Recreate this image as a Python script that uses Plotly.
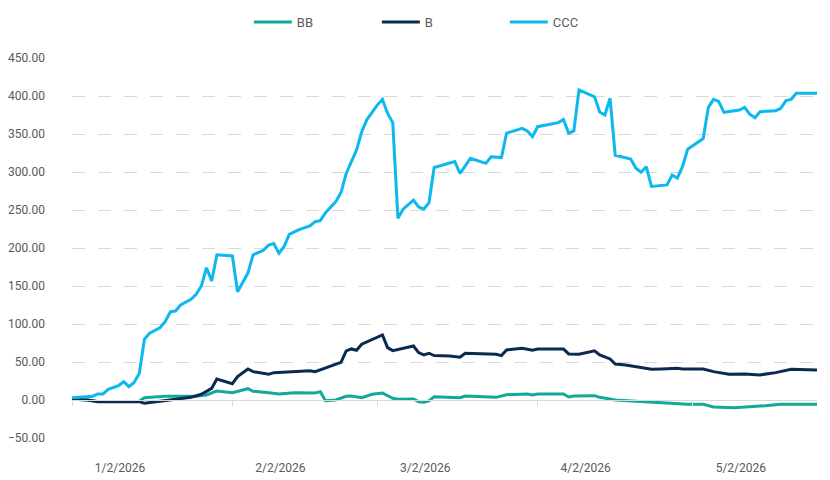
import plotly.graph_objects as go

# series vertices (date, value)
bb_dates = ["2026-01-02", "2026-01-05", "2026-01-07", "2026-01-12", "2026-01-15", "2026-01-16",
            "2026-01-20", "2026-01-26", "2026-01-28", "2026-01-30", "2026-02-02", "2026-02-05",
            "2026-02-06", "2026-02-09", "2026-02-11", "2026-02-14", "2026-02-18", "2026-02-19",
            "2026-02-20", "2026-02-22", "2026-02-24", "2026-02-25", "2026-02-27", "2026-03-01",
            "2026-03-03", "2026-03-05", "2026-03-06", "2026-03-09", "2026-03-10", "2026-03-11",
            "2026-03-12", "2026-03-13", "2026-03-18", "2026-03-19", "2026-03-23", "2026-03-25",
            "2026-03-27", "2026-03-31", "2026-04-01", "2026-04-02", "2026-04-07", "2026-04-08",
            "2026-04-09", "2026-04-13", "2026-04-14", "2026-04-17", "2026-04-21", "2026-04-24",
            "2026-04-28", "2026-05-01", "2026-05-04", "2026-05-06", "2026-05-10", "2026-05-14",
            "2026-05-16", "2026-05-19", "2026-05-26"]
bb_values = [1, 0, -2, -2, -1.5, 3,
             4.8, 4.8, 6.6, 11.9, 9.6, 14.9,
             11.5, 9.6, 7.9, 9.6, 9.2, 11,
             -0.9, 0, 4.8, 5.3, 3, 7.5,
             9.2, 2.2, 0.9, 1.3, -2.2, -3,
             -1.3, 4.4, 3, 5.3, 3.5, 3.5,
             7, 7.9, 6.6, 7.9, 7.9, 4,
             5.3, 5.7, 3.5, 0, -1.5, -3,
             -4.8, -5.7, -5.7, -9.2, -10.1, -8.8,
             -7.5, -5.7, -5.7]

b_dates = ["2026-01-02", "2026-01-05", "2026-01-07", "2026-01-12", "2026-01-15", "2026-01-16",
           "2026-01-20", "2026-01-22", "2026-01-25", "2026-01-27", "2026-01-29", "2026-01-30",
           "2026-02-02", "2026-02-03", "2026-02-05", "2026-02-06", "2026-02-09", "2026-02-10",
           "2026-02-13", "2026-02-17", "2026-02-18", "2026-02-21", "2026-02-23", "2026-02-24",
           "2026-02-25", "2026-02-26", "2026-02-27", "2026-03-03", "2026-03-04", "2026-03-05",
           "2026-03-07", "2026-03-09", "2026-03-10", "2026-03-11", "2026-03-12", "2026-03-13",
           "2026-03-16", "2026-03-18", "2026-03-19", "2026-03-23", "2026-03-25", "2026-03-26",
           "2026-03-27", "2026-03-30", "2026-04-01", "2026-04-02", "2026-04-07", "2026-04-08",
           "2026-04-10", "2026-04-13", "2026-04-14", "2026-04-16", "2026-04-17", "2026-04-19",
           "2026-04-21", "2026-04-24", "2026-04-26", "2026-04-29", "2026-04-30", "2026-05-04",
           "2026-05-06", "2026-05-09", "2026-05-12", "2026-05-15", "2026-05-18", "2026-05-21",
           "2026-05-26"]
b_values = [1.3, 0, -2.2, -2, -2, -4.4,
            -1.3, 1, 3.5, 7.5, 15.4, 27.7,
            21.5, 30.7, 40.8, 37.3, 33.8, 36,
            37.3, 38.6, 37.3, 45.2, 49.6, 64.6,
            67.2, 65.4, 73.4, 85.6, 68.9, 65,
            68, 71, 62.3, 59.3, 61.5, 58.4,
            58, 56.2, 61.5, 60.2, 60.2, 58.4,
            65.9, 68, 65.4, 67.2, 67.2, 60.6,
            60.2, 64.6, 59.3, 54, 47.4, 46.1,
            43.9, 40.4, 40.8, 41.7, 40.8, 40.8,
            37.3, 33.8, 34.3, 33, 36, 40.4,
            39.5]

ccc_dates = ["2026-01-02", "2026-01-06", "2026-01-07", "2026-01-08", "2026-01-09", "2026-01-11",
             "2026-01-12", "2026-01-13", "2026-01-14", "2026-01-15", "2026-01-16", "2026-01-17",
             "2026-01-19", "2026-01-20", "2026-01-21", "2026-01-22", "2026-01-23", "2026-01-25",
             "2026-01-26", "2026-01-27", "2026-01-28", "2026-01-29", "2026-01-30", "2026-02-02",
             "2026-02-03", "2026-02-05", "2026-02-06", "2026-02-08", "2026-02-09", "2026-02-10",
             "2026-02-11", "2026-02-12", "2026-02-13", "2026-02-15", "2026-02-17", "2026-02-18",
             "2026-02-19", "2026-02-20", "2026-02-22", "2026-02-23", "2026-02-24", "2026-02-26",
             "2026-02-27", "2026-02-28", "2026-03-02", "2026-03-03", "2026-03-04", "2026-03-05",
             "2026-03-06", "2026-03-07", "2026-03-09", "2026-03-10", "2026-03-11", "2026-03-12",
             "2026-03-13", "2026-03-17", "2026-03-18", "2026-03-20", "2026-03-23", "2026-03-24",
             "2026-03-26", "2026-03-27", "2026-03-30", "2026-03-31", "2026-04-01", "2026-04-02",
             "2026-04-06", "2026-04-07", "2026-04-08", "2026-04-09", "2026-04-10", "2026-04-13",
             "2026-04-14", "2026-04-15", "2026-04-16", "2026-04-17", "2026-04-20", "2026-04-21",
             "2026-04-22", "2026-04-23", "2026-04-24", "2026-04-27", "2026-04-28", "2026-04-29",
             "2026-04-30", "2026-05-01", "2026-05-04", "2026-05-05", "2026-05-06", "2026-05-07",
             "2026-05-08", "2026-05-11", "2026-05-12", "2026-05-13", "2026-05-14", "2026-05-15",
             "2026-05-18", "2026-05-19", "2026-05-20", "2026-05-21", "2026-05-22", "2026-05-26"]
ccc_values = [3, 5, 8, 8, 14, 19,
              24, 17.5, 23, 35, 80, 88,
              95, 103, 116, 117, 125, 132.5,
              139, 150, 174, 156.5, 191, 189.5,
              142.5, 167, 191, 197, 204, 206,
              193, 202, 218, 224.5, 229, 234.6,
              236, 246.5, 261, 273, 298, 329,
              353, 369, 388, 395.6, 377, 365,
              239, 251, 263, 254, 251, 259.6,
              306, 313.6, 298, 318, 311.4, 320,
              319, 351, 357.5, 354, 346.5, 359.6,
              365, 369, 351, 354, 408, 399,
              379, 375, 397, 322, 317, 305,
              299.6, 307, 281, 283, 296, 292,
              307, 330, 344, 385, 395.6, 393,
              378.5, 381.6, 385, 376, 371.5, 379.4,
              380.7, 383.8, 394, 395.6, 403.5, 403.5]

tick_dates = ["2026-01-02", "2026-02-02", "2026-03-02", "2026-04-02", "2026-05-02"]
tick_labels = ["1/2/2026", "2/2/2026", "3/2/2026", "4/2/2026", "5/2/2026"]

font_color = "#595959"
grid_color = "#d9d9d9"

fig = go.Figure()
fig.add_trace(go.Scatter(x=bb_dates, y=bb_values, name="BB", mode="lines",
                         line=dict(color="#12A89A", width=3)))
fig.add_trace(go.Scatter(x=b_dates, y=b_values, name="B", mode="lines",
                         line=dict(color="#0B2A50", width=3)))
fig.add_trace(go.Scatter(x=ccc_dates, y=ccc_values, name="CCC", mode="lines",
                         line=dict(color="#0CB8EE", width=3)))

# page body adds an 8px offset, so the figure is 8px smaller than the window
fig.update_layout(
    width=822,
    height=472,
    margin=dict(l=64, r=13, t=50, b=42, autoexpand=False),
    paper_bgcolor="white",
    plot_bgcolor="white",
    font=dict(family="Roboto", size=12, color=font_color),
    showlegend=True,
    legend=dict(orientation="h", xref="container", yref="container",
                x=0.293, xanchor="left", y=0.970, yanchor="middle",
                itemwidth=38, entrywidth=75, entrywidthmode="pixels",
                font=dict(size=13, color=font_color)),
    xaxis=dict(
        type="date",
        range=["2026-01-02", "2026-05-26"],
        tickvals=tick_dates,
        ticktext=tick_labels,
        anchor="free",
        position=0.1,
        automargin=False,
        showgrid=False,
        showline=True,
        linecolor=grid_color,
        linewidth=1,
        ticks="outside",
        ticklen=5,
        tickcolor=grid_color,
        ticklabelshift=48,
        ticklabelstandoff=52,
    ),
    yaxis=dict(
        range=[-50, 450],
        dtick=50,
        tickformat=".2f",
        automargin=False,
        showgrid=True,
        gridcolor=grid_color,
        griddash="13px,13px",
        zeroline=False,
        showline=False,
        ticklabelstandoff=26,
    ),
)

fig.write_html("out.html")
